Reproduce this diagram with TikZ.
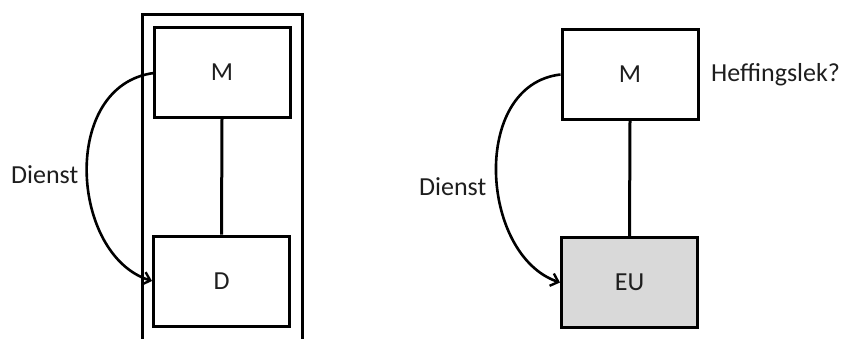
\documentclass[tikz,border=0pt]{standalone}
\usepackage{fontspec}
\setmainfont{Carlito}
\usetikzlibrary{arrows.meta}
\definecolor{txt}{HTML}{1E1E1E}
\definecolor{eugray}{HTML}{D9D9D9}
\begin{document}
\begin{tikzpicture}[x=1pt,y=-1pt,
  box/.style={draw=black,line width=3pt,minimum width=136pt,minimum height=90pt,inner sep=0pt,font=\fontsize{26}{30}\selectfont,text=txt},
  lbl/.style={font=\fontsize{26}{30}\selectfont,text=txt,inner sep=0pt},
  conn/.style={line width=3pt},
  arr/.style={line width=2.6pt,-{Straight Barb[length=7pt,width=13pt,line width=2.4pt]}}]
\useasboundingbox (0,0) rectangle (846,338);
\clip (0,0) rectangle (846,338);
% left frame
\draw[line width=3pt] (142,360) -- (142,14) -- (302,14) -- (302,360);
\node[box] (m1) at (222,72.5) {M};
\node[box] (d1) at (221.5,281) {D};
\draw[conn] (m1.south) -- (d1.north);
\coordinate (s1) at (154,73);
\draw[arr] (s1) .. controls (60,85) and (70,255) .. (d1.west);
\node[lbl,anchor=west] (dienst1) at (11,175) {Dienst};
% right
\node[box] (m2) at (630,74.5) {M};
\node[box,fill=eugray] (eu) at (629.5,282.5) {EU};
\draw[conn] (m2.south) -- (eu.north);
\draw[arr] (m2.west) .. controls (470,85) and (480,255) .. (eu.west);
\node[lbl,anchor=west] (dienst2) at (419,187) {Dienst};
\node[lbl,anchor=west] (heff) at (711,75) {Heffingslek?};
\end{tikzpicture}
\end{document}
